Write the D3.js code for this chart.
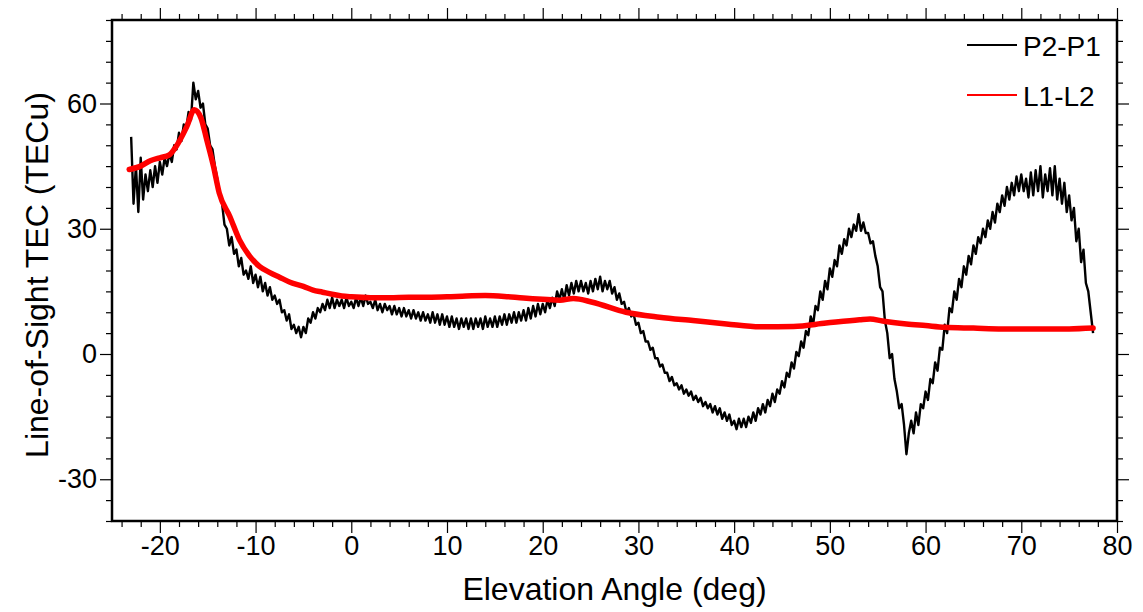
<!DOCTYPE html>
<html>
<head>
<meta charset="utf-8">
<script src="https://cdn.jsdelivr.net/npm/d3@7"></script>
<style>
  html, body { margin: 0; padding: 0; background: #fff; }
  svg { display: block; font-family: "Liberation Sans", Arial, sans-serif; }
</style>
</head>
<body>
<svg id="chart" width="1143" height="612"></svg>
<script>
// ---- Data ----
const seriesNames = ["P2-P1", "L1-L2"];
const seriesColors = ["#000000", "#ff0000"];

const p2p1Start = -23;
const p2p1Step = 0.25;
const p2p1Values = [
  52, 36, 45, 34,
  47, 37, 43, 39,
  44, 40, 45, 41,
  46, 43, 47, 45,
  48, 46, 50, 49,
  53, 51, 55, 54,
  58, 56, 65, 61,
  63, 59, 60, 55,
  54, 50, 49, 45,
  42, 38, 36, 31,
  30, 26, 28, 24,
  25, 21, 23, 19,
  20, 18, 21, 17,
  19, 16, 18.5, 15,
  17, 14, 16, 13,
  14, 12, 13, 10,
  10.5, 8, 9.5, 6,
  7, 5, 6.5, 4,
  6.5, 5, 8.5, 7.5,
  10, 8.5, 11, 10,
  12, 10.5, 13, 11,
  13.5, 11, 13, 11.5,
  13, 11, 13.5, 11.5,
  12.5, 11, 13.5, 11.5,
  13.5, 11.5, 14, 12,
  12.5, 11, 13, 10.5,
  12, 10, 12, 10.5,
  11.5, 9.5, 11.5, 9.5,
  11, 9, 11, 9,
  10.5, 8.5, 10.5, 8.5,
  10, 8, 10, 8,
  9.5, 7.5, 10, 7.5,
  9.5, 7, 9.5, 7,
  9, 6.5, 9, 6.5,
  8.5, 6, 8.5, 6.5,
  8.5, 6, 8.5, 6,
  8.5, 6.5, 8.5, 6,
  9, 6.5, 8.5, 6.5,
  9, 6.5, 9, 7,
  9.5, 7, 9.5, 7.5,
  10, 7.5, 10, 8,
  10.5, 8, 11, 8.5,
  11.5, 9, 12, 9.5,
  12, 10, 13, 11,
  13.5, 11.5, 15, 13,
  15.5, 13, 16.5, 14,
  17, 14.5, 17.5, 15,
  17.5, 15, 17, 14.5,
  17.5, 15, 18, 15.5,
  18.5, 15, 17.5, 15.5,
  17.5, 14.5, 16, 13,
  14.5, 12, 12.5, 10,
  11, 9, 9.5, 7,
  7.5, 5, 5.5, 3,
  3, 1, 1.5, -1,
  -1, -3, -2.5, -4.5,
  -4.5, -6.5, -5.5, -7.5,
  -7, -8.5, -7.5, -9.5,
  -8.5, -10, -9, -11,
  -10, -11.5, -10.5, -12.5,
  -11.5, -13, -12, -14,
  -12.5, -14.5, -13, -15.5,
  -14, -16, -14.5, -17,
  -16, -18, -15.5, -17.5,
  -15.5, -17.5, -15, -16.5,
  -14, -16, -13, -14.5,
  -12, -14, -11, -12.5,
  -9.5, -11.5, -8.5, -9.5,
  -6.5, -8, -4.5, -5.5,
  -2, -3.5, 0.5, -0.5,
  3, 1.5, 5.5, 4.5,
  9, 7, 11.5, 10.5,
  15, 13, 17.5, 15.5,
  20.5, 18.5, 22.5, 21,
  26, 24, 27.5, 26,
  30, 28, 31, 29.5,
  33.5, 29.5, 31.5, 29,
  29, 26.5, 27, 23.5,
  21, 16, 15, 8,
  5, -1, 0, -6,
  -9, -13, -12, -17,
  -24, -19, -16, -19,
  -14, -17, -12, -13,
  -9, -11, -6, -7,
  -2, -4, 1.5, 1,
  7, 5, 11, 10,
  15, 13, 18, 16,
  21, 19, 23.5, 21.5,
  26, 24, 28, 26.5,
  30, 28, 32, 30,
  34, 31.5, 36, 34,
  38, 35.5, 40, 37,
  41, 38, 42.5, 39,
  43, 39, 42, 37.5,
  43.5, 38, 44, 39,
  45, 37.5, 43, 39,
  44.5, 38, 45, 37,
  42, 36, 41, 34,
  38, 32, 35, 27,
  30, 22, 25, 17,
  15, 10, 5
];

// L1-L2 (smooth)
const l1l2Elev = [
  -23.2, -22, -21, -20, -19, -18.3, -17.2, -16.4, -15.7, -15.1,
  -14.4, -13.8, -12.7, -11.7, -10.6, -9.6, -8.5, -7.5, -6.4, -5,
  -4, -3, -2, -1, 0, 2, 4, 6, 8, 10,
  12, 14, 16, 18, 20, 21.8, 23.2, 25.2, 28.7, 32.2,
  35.7, 39.2, 42.7, 46.2, 49.6, 53.1, 54.2, 55.5, 58, 60,
  62, 65, 68, 72, 75, 77.5
];
const l1l2Values = [
  44.2, 45, 46.3, 47, 47.7, 49.7, 54.4, 58.5, 56.5, 51.3,
  45, 38.6, 33, 27.4, 23.4, 21, 19.5, 18.4, 17.2, 16.2,
  15.3, 14.8, 14.3, 13.9, 13.7, 13.5, 13.5, 13.6, 13.6, 13.7,
  13.9, 14.0, 13.8, 13.4, 13.1, 12.9, 13.3, 12.4, 10, 8.8,
  8, 7.2, 6.5, 6.6, 7.4, 8.2, 8.4, 7.9, 7.2, 6.8,
  6.4, 6.2, 6, 6, 6, 6.2
];

const xMajorTicks = [-20, -10, 0, 10, 20, 30, 40, 50, 60, 70, 80];
const yMajorTicks = [-30, 0, 30, 60];
const xLabel = "Elevation Angle (deg)";
const yLabel = "Line-of-Sight TEC (TECu)";

// ---- Layout ----
const svg = d3.select("#chart");
const mLeft = 112, mRight = 1117, mTop = 20, mBottom = 521;

const x = d3.scaleLinear().domain([-25, 80]).range([mLeft, mRight]);
const y = d3.scaleLinear().domain([-40, 80]).range([mBottom, mTop]);

const xMinor = d3.range(-24, 80.1, 2).filter(v => !xMajorTicks.includes(v));
const yMinor = d3.range(-40, 80.1, 5).filter(v => !yMajorTicks.includes(v));

const tickFont = 27;
const fmt = d => String(d);

function styleAxis(g) {
  g.select(".domain").remove();
  g.selectAll("line").attr("stroke", "#000").attr("stroke-width", 1.2);
  g.selectAll("text").attr("font-size", tickFont).attr("fill", "#000")
    .attr("font-family", "Liberation Sans, Arial, sans-serif");
}

// bottom axis
svg.append("g").attr("transform", `translate(0,${mBottom})`)
  .call(d3.axisBottom(x).tickValues(xMajorTicks).tickSize(12).tickPadding(3).tickFormat(fmt))
  .call(styleAxis);
svg.append("g").attr("transform", `translate(0,${mBottom})`)
  .call(d3.axisBottom(x).tickValues(xMinor).tickSize(6).tickFormat(""))
  .call(styleAxis);
// top axis
svg.append("g").attr("transform", `translate(0,${mTop})`)
  .call(d3.axisTop(x).tickValues(xMajorTicks).tickSize(12).tickFormat(""))
  .call(styleAxis);
svg.append("g").attr("transform", `translate(0,${mTop})`)
  .call(d3.axisTop(x).tickValues(xMinor).tickSize(6).tickFormat(""))
  .call(styleAxis);
// left axis
svg.append("g").attr("transform", `translate(${mLeft},0)`)
  .call(d3.axisLeft(y).tickValues(yMajorTicks).tickSize(12).tickPadding(3).tickFormat(fmt))
  .call(styleAxis);
svg.append("g").attr("transform", `translate(${mLeft},0)`)
  .call(d3.axisLeft(y).tickValues(yMinor).tickSize(6).tickFormat(""))
  .call(styleAxis);
// right axis
svg.append("g").attr("transform", `translate(${mRight},0)`)
  .call(d3.axisRight(y).tickValues(yMajorTicks).tickSize(12).tickFormat(""))
  .call(styleAxis);
svg.append("g").attr("transform", `translate(${mRight},0)`)
  .call(d3.axisRight(y).tickValues(yMinor).tickSize(6).tickFormat(""))
  .call(styleAxis);

// clip
svg.append("clipPath").attr("id", "clip").append("rect")
  .attr("x", mLeft).attr("y", mTop).attr("width", mRight - mLeft).attr("height", mBottom - mTop);

const plot = svg.append("g").attr("clip-path", "url(#clip)");

const blackData = p2p1Values.map((v, i) => [p2p1Start + i * p2p1Step, v]);
const redData = l1l2Elev.map((e, i) => [e, l1l2Values[i]]);

plot.append("path").datum(blackData)
  .attr("fill", "none").attr("stroke", seriesColors[0]).attr("stroke-width", 2.4)
  .attr("stroke-linejoin", "round")
  .attr("d", d3.line().x(d => x(d[0])).y(d => y(d[1])));

plot.append("path").datum(redData)
  .attr("fill", "none").attr("stroke", seriesColors[1]).attr("stroke-width", 5.5)
  .attr("stroke-linejoin", "round").attr("stroke-linecap", "round")
  .attr("d", d3.line().curve(d3.curveMonotoneX).x(d => x(d[0])).y(d => y(d[1])));

// frame
svg.append("rect").attr("x", mLeft).attr("y", mTop)
  .attr("width", mRight - mLeft).attr("height", mBottom - mTop)
  .attr("fill", "none").attr("stroke", "#000").attr("stroke-width", 2.5);

// legend
const legendY = [45, 95];
seriesNames.forEach((name, i) => {
  svg.append("line").attr("x1", 967).attr("x2", 1017)
    .attr("y1", legendY[i]).attr("y2", legendY[i])
    .attr("stroke", seriesColors[i]).attr("stroke-width", 2);
  svg.append("text").attr("x", 1023).attr("y", legendY[i] + 11)
    .attr("font-size", 28).attr("fill", "#000").text(name);
});

// axis titles
svg.append("text").attr("x", (mLeft + mRight) / 2).attr("y", 600)
  .attr("text-anchor", "middle").attr("font-size", 32).attr("fill", "#000").text(xLabel);
svg.append("text").attr("transform", "translate(48,275) rotate(-90)")
  .attr("text-anchor", "middle").attr("font-size", 32).attr("fill", "#000").text(yLabel);
</script>
</body>
</html>
